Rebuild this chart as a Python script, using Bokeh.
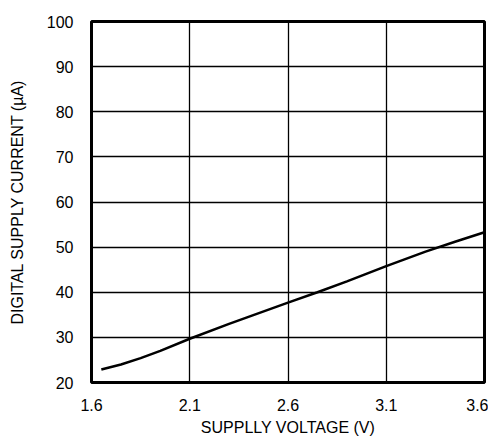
from bokeh.plotting import figure
from bokeh.models import FixedTicker, Range1d
from bokeh.embed import file_html
from bokeh.resources import INLINE

voltage = [1.65, 1.75, 1.85, 1.95, 2.1, 2.3, 2.6, 2.75, 2.9, 3.1, 3.3, 3.45, 3.6]
current = [22.9, 24.0, 25.4, 27.0, 29.7, 33.0, 37.7, 40.0, 42.4, 45.8, 49.0, 51.2, 53.3]
x_ticks = [1.6, 2.1, 2.6, 3.1, 3.6]
y_ticks = [20, 30, 40, 50, 60, 70, 80, 90, 100]

FONT = "Liberation Sans"

p = figure(width=488, height=440, output_backend="svg", toolbar_location=None,
           x_range=Range1d(1.6, 3.6), y_range=Range1d(20, 100),
           min_border_left=91, min_border_right=4, min_border_top=21, min_border_bottom=58)

p.line(voltage, current, line_color="black", line_width=2.5)

p.xaxis.ticker = FixedTicker(ticks=x_ticks)
p.yaxis.ticker = FixedTicker(ticks=y_ticks)
p.xaxis.major_label_overrides = {t: f"{t:.1f}" for t in x_ticks}

for ax in (p.xaxis, p.yaxis):
    ax.axis_line_color = None
    ax.major_tick_line_color = None
    ax.minor_tick_line_color = None
    ax.major_label_text_font = FONT
    ax.major_label_text_font_size = "16px"
    ax.major_label_text_color = "black"
    ax.axis_label_text_font = FONT
    ax.axis_label_text_font_size = "16px"
    ax.axis_label_text_font_style = "normal"
    ax.axis_label_text_color = "black"

p.xaxis.axis_label = "SUPPLLY VOLTAGE (V)"
p.yaxis.axis_label = "DIGITAL SUPPLY CURRENT (µA)"
p.xaxis.major_label_standoff = 10
p.yaxis.major_label_standoff = 12
p.xaxis.axis_label_standoff = 5
p.yaxis.axis_label_standoff = 18

p.grid.grid_line_color = "black"
p.grid.grid_line_width = 1.3
p.grid.grid_line_alpha = 1.0

p.outline_line_color = "black"
p.outline_line_width = 3
p.outline_line_alpha = 1.0

open("out.html", "w").write(file_html(p, INLINE))
